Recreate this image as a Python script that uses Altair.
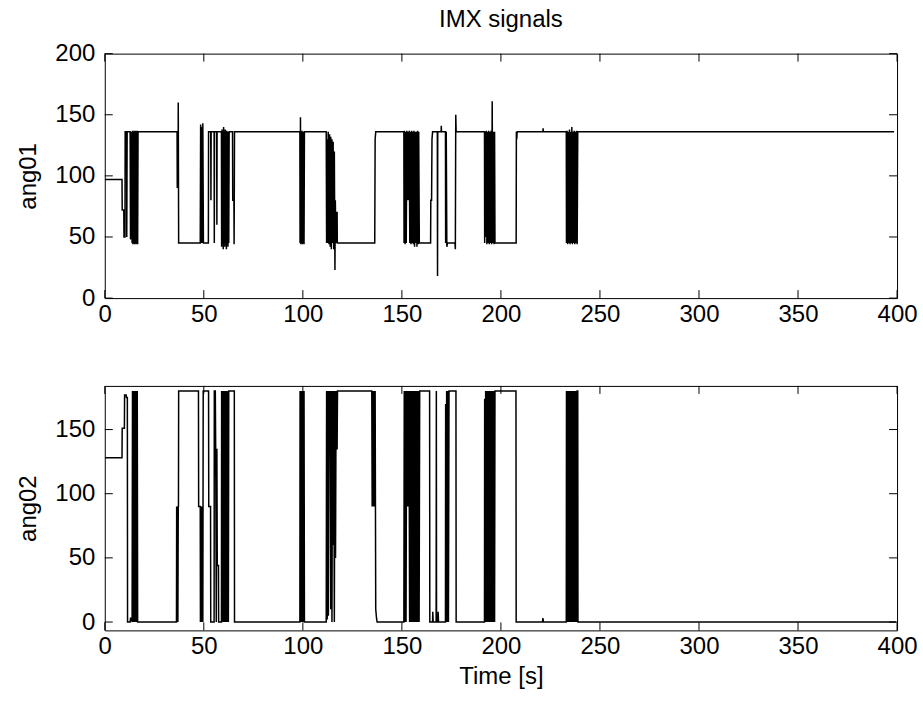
import altair as alt
import pandas as pd

title_text = "IMX signals"
x_title = "Time [s]"
y_names = ["ang01", "ang02"]
x_ticks = [0, 50, 100, 150, 200, 250, 300, 350, 400]
y1_ticks = [0, 50, 100, 150, 200]
y2_ticks = [0, 50, 100, 150]
x_domain = [0, 400]
y1_domain = [0, 200]
y2_domain = [-6.5, 184]

# (time [s], value) samples
ang01 = [
    (0, 97), (8.7, 97), (8.8, 72), (9.6, 72), (9.7, 50), (10.2, 50), (10.3, 136), (11.0, 136),
    (11.1, 50), (11.3, 136), (12.8, 136), (13.0, 48), (13.2, 136),
    (13.8, 45), (14.0, 137), (14.2, 44), (14.4, 136), (14.6, 45), (14.8, 137), (15.0, 44),
    (15.2, 136), (15.4, 45), (15.6, 137), (15.8, 44), (16.0, 136), (16.2, 45), (16.4, 137),
    (16.6, 44), (16.8, 136),
    (36.5, 136), (36.6, 90), (36.8, 136), (37.0, 92), (37.1, 160), (37.3, 45),
    (48.2, 45), (48.4, 142), (48.6, 45), (48.9, 140), (49.2, 45), (49.5, 143), (49.8, 45),
    (52.3, 45), (52.4, 136), (53.5, 136), (53.6, 80), (53.7, 136), (55.2, 136), (55.3, 45),
    (55.4, 136), (56.5, 136), (56.6, 60), (56.7, 136),
    (58.9, 136), (59.0, 42), (59.2, 138), (59.4, 45), (59.6, 136), (59.8, 40), (60.0, 140),
    (60.2, 45), (60.4, 136), (60.6, 42), (60.8, 138), (61.0, 45), (61.2, 136), (61.4, 40),
    (61.6, 137), (61.8, 44), (62.0, 136), (62.2, 42), (62.4, 136), (62.6, 45), (62.8, 136),
    (64.5, 136), (64.6, 80), (65.2, 80), (65.3, 44), (65.5, 136),
    (98.5, 136), (98.6, 45), (98.8, 148), (99.0, 44), (99.2, 136), (99.4, 45), (99.6, 137),
    (99.8, 44), (100.0, 136), (100.2, 45), (100.4, 136), (100.6, 44), (100.8, 136),
    (111.8, 136), (112.0, 45), (112.2, 130), (112.5, 45), (112.8, 136), (113.2, 44), (113.5, 134),
    (113.8, 42), (114.1, 132), (114.4, 40), (114.7, 130), (115.0, 45), (115.3, 128), (115.6, 40),
    (115.9, 120), (116.2, 23), (116.4, 80), (116.7, 45), (117.0, 70), (117.3, 70), (117.4, 45),
    (136.3, 45), (136.5, 130), (136.8, 136),
    (151.0, 136), (151.1, 45), (151.3, 137), (151.6, 44), (151.9, 136), (152.2, 45), (152.5, 137),
    (152.8, 80), (153.1, 136), (153.4, 80), (153.7, 137), (154.0, 45), (154.3, 136), (154.6, 44),
    (154.9, 137), (155.2, 45), (155.5, 136), (155.8, 44), (156.1, 137), (156.4, 42), (156.7, 136),
    (157.0, 45), (157.3, 136), (157.6, 42), (157.9, 137), (158.2, 44), (158.5, 136), (158.8, 45),
    (164.5, 45), (164.6, 80), (165.0, 80), (165.2, 130), (165.5, 136), (167.9, 136), (168.0, 18),
    (168.1, 136), (169.8, 136), (169.9, 141), (170.0, 136),
    (172.0, 136), (172.1, 45), (172.4, 136), (172.7, 42), (173.0, 45), (176.8, 45), (177.0, 40),
    (177.2, 150), (177.4, 136),
    (191.7, 136), (191.8, 45), (192.0, 136), (192.3, 50), (192.6, 137), (192.9, 44), (193.2, 136),
    (193.5, 45), (193.8, 137), (194.1, 44), (194.4, 136), (194.7, 45), (195.0, 137), (195.3, 44),
    (195.6, 161), (195.9, 45), (196.2, 136), (196.5, 44), (196.8, 136), (197.0, 45),
    (207.7, 45), (207.8, 136), (208.0, 130), (208.2, 136), (221.2, 136), (221.3, 139), (221.4, 136),
    (233.0, 136), (233.1, 45), (233.4, 137), (233.7, 44), (234.0, 136), (234.3, 45), (234.6, 138),
    (234.9, 44), (235.2, 136), (235.5, 45), (235.8, 140), (236.1, 44), (236.4, 136), (236.7, 45),
    (237.0, 137), (237.3, 44), (237.6, 136), (237.9, 45), (238.2, 137), (238.5, 44), (238.8, 136),
    (398.5, 136),
]

ang02 = [
    (0, 128), (8.7, 128), (8.8, 151), (9.9, 151), (10.0, 177), (10.8, 177), (10.9, 175),
    (11.4, 175), (11.5, 0), (12.8, 0), (13.0, 3), (13.5, 3),
    (13.8, 0), (14.0, 180), (14.2, 0), (14.4, 180), (14.6, 0), (14.8, 180), (15.0, 0),
    (15.2, 180), (15.4, 0), (15.6, 180), (15.8, 0), (16.0, 180), (16.2, 0), (16.4, 180), (16.6, 0),
    (36.2, 0), (36.3, 90), (36.5, 0), (36.7, 90), (36.9, 0), (37.1, 90), (37.2, 90), (37.3, 180),
    (47.3, 180), (47.4, 90), (48.2, 90), (48.3, 0), (48.5, 90), (48.7, 0), (48.9, 90), (49.1, 0),
    (49.3, 90), (49.5, 0), (49.7, 180),
    (52.4, 180), (52.5, 90), (53.4, 90), (53.5, 0), (55.2, 0), (55.3, 180), (55.8, 180),
    (56.0, 135), (56.3, 0), (56.6, 135), (56.8, 44), (57.4, 44), (57.5, 0),
    (58.9, 0), (59.0, 180), (59.2, 0), (59.4, 180), (59.6, 0), (59.8, 180), (60.0, 0),
    (60.2, 180), (60.4, 0), (60.6, 180), (60.8, 0), (61.0, 180), (61.2, 0), (61.4, 180),
    (61.6, 0), (61.8, 180), (62.0, 0), (62.2, 180), (62.4, 0), (62.6, 180), (62.8, 180),
    (65.4, 180), (65.5, 0),
    (98.5, 0), (98.6, 180), (98.8, 0), (99.0, 180), (99.2, 0), (99.4, 180), (99.6, 0),
    (99.8, 180), (100.0, 0), (100.2, 180), (100.4, 0), (100.6, 180), (100.8, 0),
    (111.8, 0), (112.0, 180), (112.3, 2), (112.6, 180), (112.9, 5), (113.2, 180), (113.5, 132),
    (113.8, 180), (114.1, 10), (114.4, 180), (114.7, 0), (115.0, 180), (115.3, 60), (115.6, 180),
    (115.9, 0), (116.2, 180), (116.5, 50), (116.8, 180), (117.0, 135), (117.3, 135), (117.5, 180),
    (134.8, 180), (135.0, 90), (135.3, 180), (135.6, 90), (135.9, 180), (136.2, 90), (136.5, 180),
    (136.8, 10), (137.2, 3), (137.5, 0),
    (151.0, 0), (151.2, 180), (151.5, 0), (151.8, 180), (152.1, 0), (152.4, 180), (152.7, 90),
    (153.0, 180), (153.3, 90), (153.6, 180), (153.9, 0), (154.2, 180), (154.5, 0), (154.8, 180),
    (155.1, 0), (155.4, 180), (155.7, 0), (156.0, 180), (156.3, 0), (156.6, 180), (156.9, 0),
    (157.2, 180), (157.5, 0), (157.8, 180), (158.1, 0), (158.4, 180), (158.7, 0), (159.0, 180),
    (164.0, 180), (164.1, 0), (165.5, 0), (165.6, 8), (165.8, 0), (167.3, 0), (167.4, 180),
    (167.5, 0), (168.2, 0), (168.3, 8), (168.5, 0),
    (172.0, 0), (172.1, 170), (172.3, 0), (172.6, 180), (172.9, 0), (173.2, 180), (173.5, 0),
    (173.8, 180), (177.3, 180), (177.4, 0),
    (191.7, 0), (191.8, 174), (192.0, 0), (192.3, 180), (192.6, 0), (192.9, 180), (193.2, 0),
    (193.5, 180), (193.8, 0), (194.1, 180), (194.4, 0), (194.7, 180), (195.0, 0), (195.3, 180),
    (195.6, 0), (195.9, 180), (196.2, 0), (196.5, 180), (196.8, 0), (197.0, 180),
    (207.6, 180), (207.7, 0), (221.0, 0), (221.2, 3), (221.5, 0),
    (233.0, 0), (233.1, 180), (233.4, 0), (233.7, 180), (234.0, 0), (234.3, 180), (234.6, 0),
    (234.9, 180), (235.2, 0), (235.5, 180), (235.8, 0), (236.1, 180), (236.4, 0), (236.7, 180),
    (237.0, 0), (237.3, 180), (237.6, 0), (237.9, 180), (238.2, 0), (238.5, 180), (238.8, 180),
    (238.9, 0),
    (399.5, 0),
]

FONT = "Liberation Sans"
FS = 24
W, H = 794, 245
TICK = 8


def panel(points, name, yticks, ydomain, xtitle):
    df = pd.DataFrame(points, columns=["t", "v"])
    df["i"] = range(len(df))
    xs = alt.Scale(domain=x_domain, nice=False, zero=False)
    ys = alt.Scale(domain=ydomain, nice=False, zero=False)
    xt = pd.DataFrame({"t": x_ticks})
    yt = pd.DataFrame({"v": yticks})
    bottom = alt.Chart(xt).mark_rule(color="black", strokeWidth=1).encode(
        x=alt.X("t:Q", scale=xs), y=alt.value(H), y2=alt.value(H - TICK))
    top = alt.Chart(xt).mark_rule(color="black", strokeWidth=1).encode(
        x=alt.X("t:Q", scale=xs), y=alt.value(0), y2=alt.value(TICK))
    left = alt.Chart(yt).mark_rule(color="black", strokeWidth=1).encode(
        y=alt.Y("v:Q", scale=ys), x=alt.value(0), x2=alt.value(TICK))
    right = alt.Chart(yt).mark_rule(color="black", strokeWidth=1).encode(
        y=alt.Y("v:Q", scale=ys), x=alt.value(W), x2=alt.value(W - TICK))
    line = alt.Chart(df).mark_line(color="black", strokeWidth=1.5, clip=True).encode(
        x=alt.X("t:Q", scale=xs, title=xtitle,
                axis=alt.Axis(values=x_ticks, format="d")),
        y=alt.Y("v:Q", scale=ys, title=name,
                axis=alt.Axis(values=yticks, format="d")),
        order=alt.Order("i:Q"),
    )
    return alt.layer(line, bottom, top, left, right).properties(width=W, height=H)


p1 = panel(ang01, y_names[0], y1_ticks, y1_domain, None).properties(
    title=alt.Title(title_text, font=FONT, fontSize=FS, fontWeight="normal", color="black", offset=10)
)
p2 = panel(ang02, y_names[1], y2_ticks, y2_domain, x_title)

chart = alt.vconcat(p1, p2, spacing=58).properties(
    padding={"left": 16, "top": 6, "right": 5, "bottom": 5},
    background="white",
).configure_view(
    stroke="black", strokeWidth=1
).configure_axis(
    labelFont=FONT, labelFontSize=FS, labelColor="black",
    titleFont=FONT, titleFontSize=FS, titleColor="black", titleFontWeight="normal",
    domain=False, ticks=False, grid=False, labelFlush=False, labelOverlap=False,
).configure_axisX(
    labelPadding=4, titlePadding=6,
).configure_axisY(
    labelPadding=10, titlePadding=14,
)

chart.save("out.html", embed_options={"renderer": "svg", "actions": False})
